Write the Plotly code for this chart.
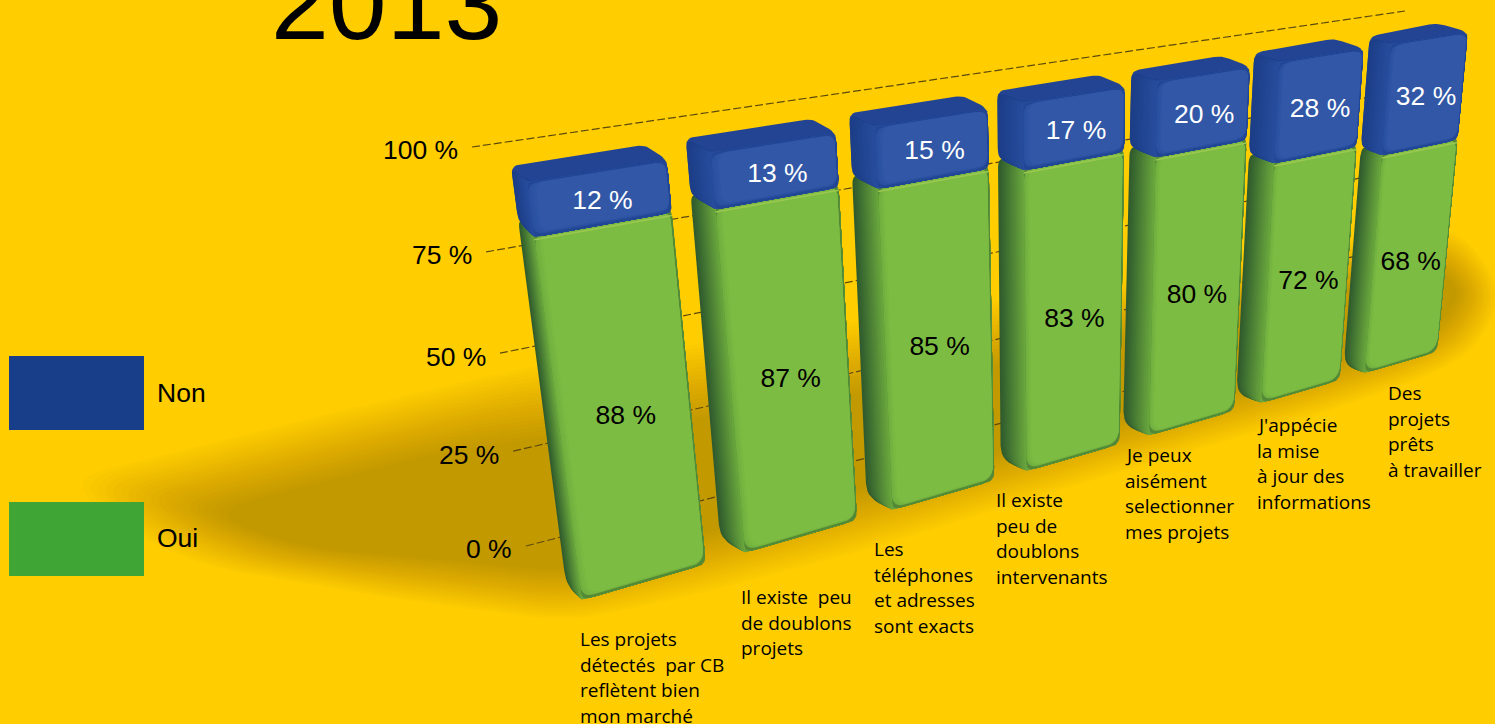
import plotly.graph_objects as go

# Survey results, one entry per statement
categories = [
    "Les projets<br>détectés  par CB<br>reflètent bien<br>mon marché",
    "Il existe  peu<br>de doublons<br>projets",
    "Les<br>téléphones<br>et adresses<br>sont exacts",
    "Il existe<br>peu de<br>doublons<br>intervenants",
    "Je peux<br>aisément<br>selectionner<br>mes projets",
    "J'appécie<br>la mise<br>à jour des<br>informations",
    "Des<br>projets<br>prêts<br>à travailler",
]
oui = [88, 87, 85, 83, 80, 72, 68]
non = [12, 13, 15, 17, 20, 28, 32]
axis_ticks = [0, 25, 50, 75, 100]

BG = "#FFCD00"
W, H = 1495, 724


def homography(p00, p10, p11, p01):
    """Return a projection of the unit square (u, v) onto the given quad."""
    x0, y0 = p00; x1, y1 = p10; x2, y2 = p11; x3, y3 = p01
    dx1, dx2, sx = x1 - x2, x3 - x2, x0 - x1 + x2 - x3
    dy1, dy2, sy = y1 - y2, y3 - y2, y0 - y1 + y2 - y3
    den = dx1 * dy2 - dx2 * dy1
    g = (sx * dy2 - dx2 * sy) / den
    h = (dx1 * sy - sx * dy1) / den
    a, b, c = x1 - x0 + g * x1, x3 - x0 + h * x3, x0
    d, e, f = y1 - y0 + g * y1, y3 - y0 + h * y3, y0

    def project(u, v):
        w = g * u + h * v + 1
        return (a * u + b * v + c) / w, (d * u + e * v + f) / w
    return project


# Perspective planes: the front of the bar row and the wall carrying the grid
front = homography((582, 600), (1437, 352), (1468, 32), (527, 182))
wall = homography((526, 546), (1400, 320), (1405, 11), (472, 147))

PITCH = 1 / 6.75
BAR = 0.75 * PITCH
SIDE_DEPTH = [16, 25, 26, 26, 26, 25, 21]


def round_poly(pts, r, n=6):
    """Round the corners of a closed polygon with quadratic curves."""
    out = []
    m = len(pts)
    for i in range(m):
        p, q, s = pts[i - 1], pts[i], pts[(i + 1) % m]
        lp = max(((p[0] - q[0]) ** 2 + (p[1] - q[1]) ** 2) ** .5, 1e-6)
        ls = max(((s[0] - q[0]) ** 2 + (s[1] - q[1]) ** 2) ** .5, 1e-6)
        ra, rb = min(r, lp * .45), min(r, ls * .45)
        a = (q[0] + (p[0] - q[0]) * ra / lp, q[1] + (p[1] - q[1]) * ra / lp)
        b = (q[0] + (s[0] - q[0]) * rb / ls, q[1] + (s[1] - q[1]) * rb / ls)
        for k in range(n + 1):
            t = k / n
            out.append(((1 - t) ** 2 * a[0] + 2 * t * (1 - t) * q[0] + t * t * b[0],
                        (1 - t) ** 2 * a[1] + 2 * t * (1 - t) * q[1] + t * t * b[1]))
    return out


def mix(c1, c2, t):
    return "rgb(%d,%d,%d)" % tuple(c1[i] + (c2[i] - c1[i]) * t for i in range(3))


fig = go.Figure()


def add_poly(pts, color, name=None):
    xs = [p[0] for p in pts] + [pts[0][0]]
    ys = [p[1] for p in pts] + [pts[0][1]]
    fig.add_trace(go.Scatter(x=xs, y=ys, mode="lines", fill="toself", fillcolor=color,
                             line=dict(width=0), hoverinfo="skip", showlegend=False,
                             name=name))


def lerp_pts(a, b, t):
    return [(p[0] + (q[0] - p[0]) * t, p[1] + (q[1] - p[1]) * t) for p, q in zip(a, b)]


# Soft cast shadow, built from nested translucent outlines
shadow_outer = [(70, 478), (300, 420), (520, 368), (800, 330), (1100, 285), (1340, 240),
                (1455, 222), (1505, 290), (1480, 345), (1440, 372), (1340, 408), (1120, 472),
                (860, 552), (700, 594), (570, 622), (400, 600), (200, 566), (110, 522)]
shadow_inner = [(215, 510), (320, 482), (450, 450), (800, 405), (1100, 345), (1340, 292),
                (1430, 262), (1462, 290), (1440, 325), (1400, 345), (1300, 372), (1100, 425),
                (860, 490), (700, 535), (570, 572), (420, 558), (320, 550), (250, 532)]
for k in range(20):
    add_poly(round_poly(lerp_pts(shadow_outer, shadow_inner, k / 19), 40), "rgba(0,0,0,0.0125)")

# Dashed guide lines and their labels
for tick in axis_ticks:
    a = wall(0, tick / 100)
    b = wall(1, tick / 100)
    fig.add_trace(go.Scatter(x=[a[0], b[0]], y=[a[1], b[1]], mode="lines",
                             line=dict(color="#5C4A0C", width=1.2, dash="8px,3px"),
                             hoverinfo="skip", showlegend=False))
    fig.add_annotation(x=a[0] - 12, y=a[1] + 3 + (100 - tick) * .01 - (tick == 0) * 1, text=f"{tick} %",
                       showarrow=False, xanchor="right", yanchor="middle",
                       font=dict(family="Liberation Sans", size=26.5, color="#000"))

GREEN_SIDE, GREEN_FACE, GREEN_CORE = (48, 92, 46), (110, 172, 62), (125, 188, 66)
BLUE_SIDE, BLUE_FACE, BLUE_CORE = (28, 62, 136), (40, 78, 158), (49, 87, 166)
BLUE_TOP = (36, 69, 149)
STEPS = 12

# Bars are painted far to near so that closer blocks overlap their neighbours
for i in reversed(range(len(categories))):
    u0 = i * PITCH
    u1 = u0 + BAR
    t = i / 6
    dl = (-SIDE_DEPTH[i], -16 + 8 * t)
    dr = (-22 - 9 * t, -15 + 6 * t)
    split = oui[i] / 100
    top = (oui[i] + non[i]) / 100

    def block(v0, v1, side, face, core, radius):
        fl0, fr0 = front(u0, v0), front(u1, v0)
        fr1, fl1 = front(u1, v1), front(u0, v1)
        for k in range(STEPS, 0, -1):
            f = k / STEPS
            poly = [(fl0[0] + dl[0] * f, fl0[1] + dl[1] * f), fl0, fr0, fr1, fl1,
                    (fl1[0] + dl[0] * f, fl1[1] + dl[1] * f)]
            add_poly(round_poly(poly, radius), mix(face, side, f))
        # Dark rim along the lower and right edges, then insets fading into the flat centre
        add_poly(round_poly([fl0, fr0, fr1, fl1], radius * .6), mix(face, side, .45))
        width = u1 - u0
        for k in range(1, 5):
            f = k / 4
            left = u0 + width * .07 * (f - .25)
            add_poly(round_poly([front(left, v0 + .004 + .006 * f),
                                 front(u1 - width * .012, v0 + .004 + .006 * f),
                                 front(u1 - width * .012, v1 - .004),
                                 front(left, v1 - .004)], radius),
                     mix(face, core, f))

    block(0, split + .01, GREEN_SIDE, GREEN_FACE, GREEN_CORE, 13)

    # Pale rim where the green block meets the blue one
    ra, rb = front(u0, split), front(u1, split)
    fig.add_trace(go.Scatter(x=[ra[0], rb[0]], y=[ra[1] + 2.5, rb[1] + 2.5], mode="lines",
                             line=dict(color="#9CC850", width=1.5), hoverinfo="skip",
                             showlegend=False))

    # Outline of the whole blue block, which also shows as its top face
    tl, tr = front(u0, top), front(u1, top)
    sl, sr = front(u0, split), front(u1, split)
    add_poly(round_poly([(sl[0] + dl[0], sl[1] + dl[1]), sl, sr, tr,
                         (tr[0] + dr[0], tr[1] + dr[1]),
                         (tl[0] + dl[0], tl[1] + dl[1])], 8), mix(BLUE_TOP, BLUE_SIDE, .1))
    block(split, top, BLUE_SIDE, BLUE_FACE, BLUE_CORE, 10)

# Value labels, centred on each segment of the front face
mid_oui = [front(i * PITCH + BAR * .5, oui[i] / 200) for i in range(len(oui))]
mid_non = [front(i * PITCH + BAR * .5, (oui[i] + (oui[i] + non[i])) / 200) for i in range(len(non))]
fig.add_trace(go.Scatter(name="Oui", x=[p[0] for p in mid_oui], y=[p[1] + 5.5 for p in mid_oui],
                         mode="text", text=[f"{v} %" for v in oui], hoverinfo="skip",
                         showlegend=False,
                         textfont=dict(family="Liberation Sans", size=26.5, color="#000")))
fig.add_trace(go.Scatter(name="Non", x=[p[0] + 1 for p in mid_non], y=[p[1] + 4.5 for p in mid_non],
                         mode="text", text=[f"{v} %" for v in non], hoverinfo="skip",
                         showlegend=False,
                         textfont=dict(family="Liberation Sans", size=26.5, color="#fff")))

# Statement captions under each bar, one annotation per line for exact leading
caption_x = [579, 740, 873, 995, 1124, 1256, 1387]
caption_y = [639, 597, 549, 500, 455, 425, 393]
LEADING = 25.6
for text, cx, cy in zip(categories, caption_x, caption_y):
    for n, line in enumerate(text.split("<br>")):
        fig.add_annotation(x=cx, y=cy + n * LEADING, text=line, showarrow=False, xanchor="left",
                           yanchor="middle", align="left", borderpad=0,
                           font=dict(family="Open Sans", size=19, color="#000"))

# Hand-placed key on the left
for y0, y1, color, label, ly in [(356, 430, "#183E8A", "Non", 393), (502, 576, "#3FA535", "Oui", 538)]:
    fig.add_shape(type="rect", x0=9, x1=144, y0=y0, y1=y1, fillcolor=color, line_width=0, layer="above")
    fig.add_annotation(x=155, y=ly, text=label, showarrow=False, xanchor="left", yanchor="middle",
                       font=dict(family="Liberation Sans", size=26.5, color="#000"))

# Heading, running off the top edge of the page
fig.add_annotation(x=270, y=62, text="2013", showarrow=False, xanchor="left", yanchor="bottom",
                   borderpad=0, font=dict(family="Liberation Sans", size=104, color="#000"))

fig.update_layout(width=W, height=H, margin=dict(l=0, r=0, t=0, b=0), autosize=False,
                  paper_bgcolor=BG, plot_bgcolor=BG, showlegend=False,
                  xaxis=dict(range=[0, W], visible=False, fixedrange=True),
                  yaxis=dict(range=[H, 0], visible=False, fixedrange=True))
fig.write_html("out.html", config=dict(displayModeBar=False))
